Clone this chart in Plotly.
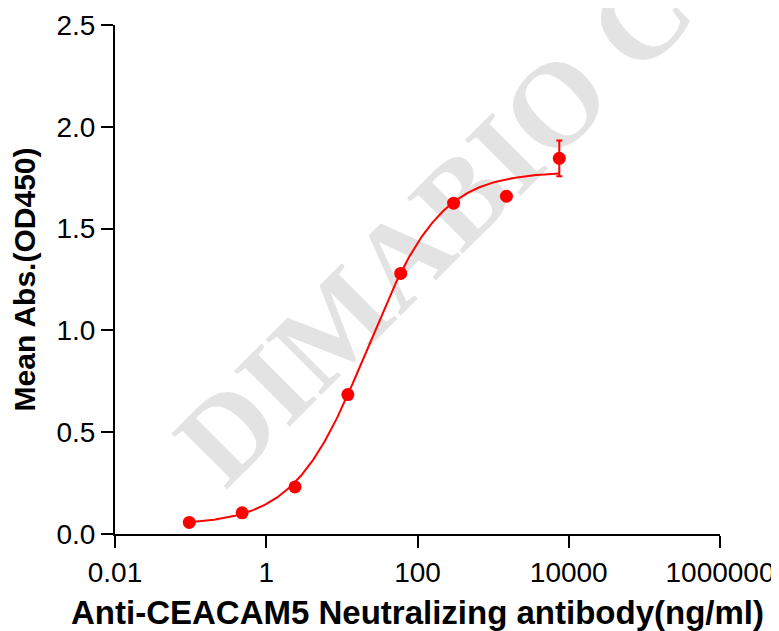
import numpy as np
import plotly.graph_objects as go

# Concentraciones (ng/ml) y absorbancias medias
conc = [0.096, 0.48, 2.4, 12, 60, 300, 1500, 7500]
od450 = [0.057, 0.104, 0.231, 0.685, 1.280, 1.625, 1.659, 1.845]
od_err = [0.005, 0.005, 0.01, 0.01, 0.01, 0.01, 0.02, 0.088]

# Parámetros del ajuste 4PL (bottom, top, EC50, Hill)
fit_bottom = 0.045
fit_top = 1.78
fit_ec50 = 21.8
fit_hill = 0.9

x_tickvals = [0.01, 1, 100, 10000, 1000000]
x_ticktext = ["0.01", "1", "100", "10000", "1000000"]

RED = "#ff0000"
FONT = "Liberation Sans, Arial, sans-serif"


def four_pl(x):
    return fit_top + (fit_bottom - fit_top) / (1 + (x / fit_ec50) ** fit_hill)


x_fit = np.logspace(np.log10(conc[0]), np.log10(conc[-1]), 300)
y_fit = four_pl(x_fit)

fig = go.Figure()

fig.add_trace(go.Scatter(
    x=x_fit, y=y_fit, mode="lines",
    line=dict(color=RED, width=2),
    hoverinfo="skip", showlegend=False,
))

fig.add_trace(go.Scatter(
    x=conc, y=od450, mode="markers",
    marker=dict(color=RED, size=13),
    error_y=dict(type="data", array=od_err, color=RED, thickness=2, width=3),
    showlegend=False,
))

# Marca de agua (debajo de las trazas)
fig.add_shape(
    type="line", xref="paper", yref="paper",
    x0=0.1812, y0=0.2318, x1=0.8423, y1=1.0177,
    line=dict(width=0, color="rgba(0,0,0,0)"),
    layer="below",
    label=dict(
        text="DIMABIO C",
        textangle=-45,
        textposition="middle",
        yanchor="middle",
        font=dict(family="Liberation Serif, Times New Roman, serif",
                  size=120, color="#e3e3e3", weight="bold"),
    ),
)

axis_common = dict(
    showline=True, linewidth=2, linecolor="black",
    ticks="outside", ticklen=12, tickwidth=2, tickcolor="black",
    showgrid=False, zeroline=False, automargin=False,
    tickfont=dict(family=FONT, size=28, color="black"),
)

fig.update_xaxes(
    type="log", range=[-2, 6],
    tickvals=x_tickvals, ticktext=x_ticktext,
    title=dict(text="<b>Anti-CEACAM5 Neutralizing antibody(ng/ml)</b>",
               font=dict(family=FONT, size=33, color="black"), standoff=14),
    **axis_common,
)
fig.update_yaxes(
    range=[0, 2.5], dtick=0.5, tickformat=".1f",
    title=dict(text="<b>Mean Abs.(OD450)</b>",
               font=dict(family=FONT, size=30, color="black"), standoff=17),
    **axis_common,
)

# La página deja 8 px de margen en el body: figura algo más pequeña
fig.update_layout(
    width=771, height=623,
    margin=dict(l=107, r=59, t=17, b=97),
    plot_bgcolor="white", paper_bgcolor="white",
)

fig.write_html("out.html")
